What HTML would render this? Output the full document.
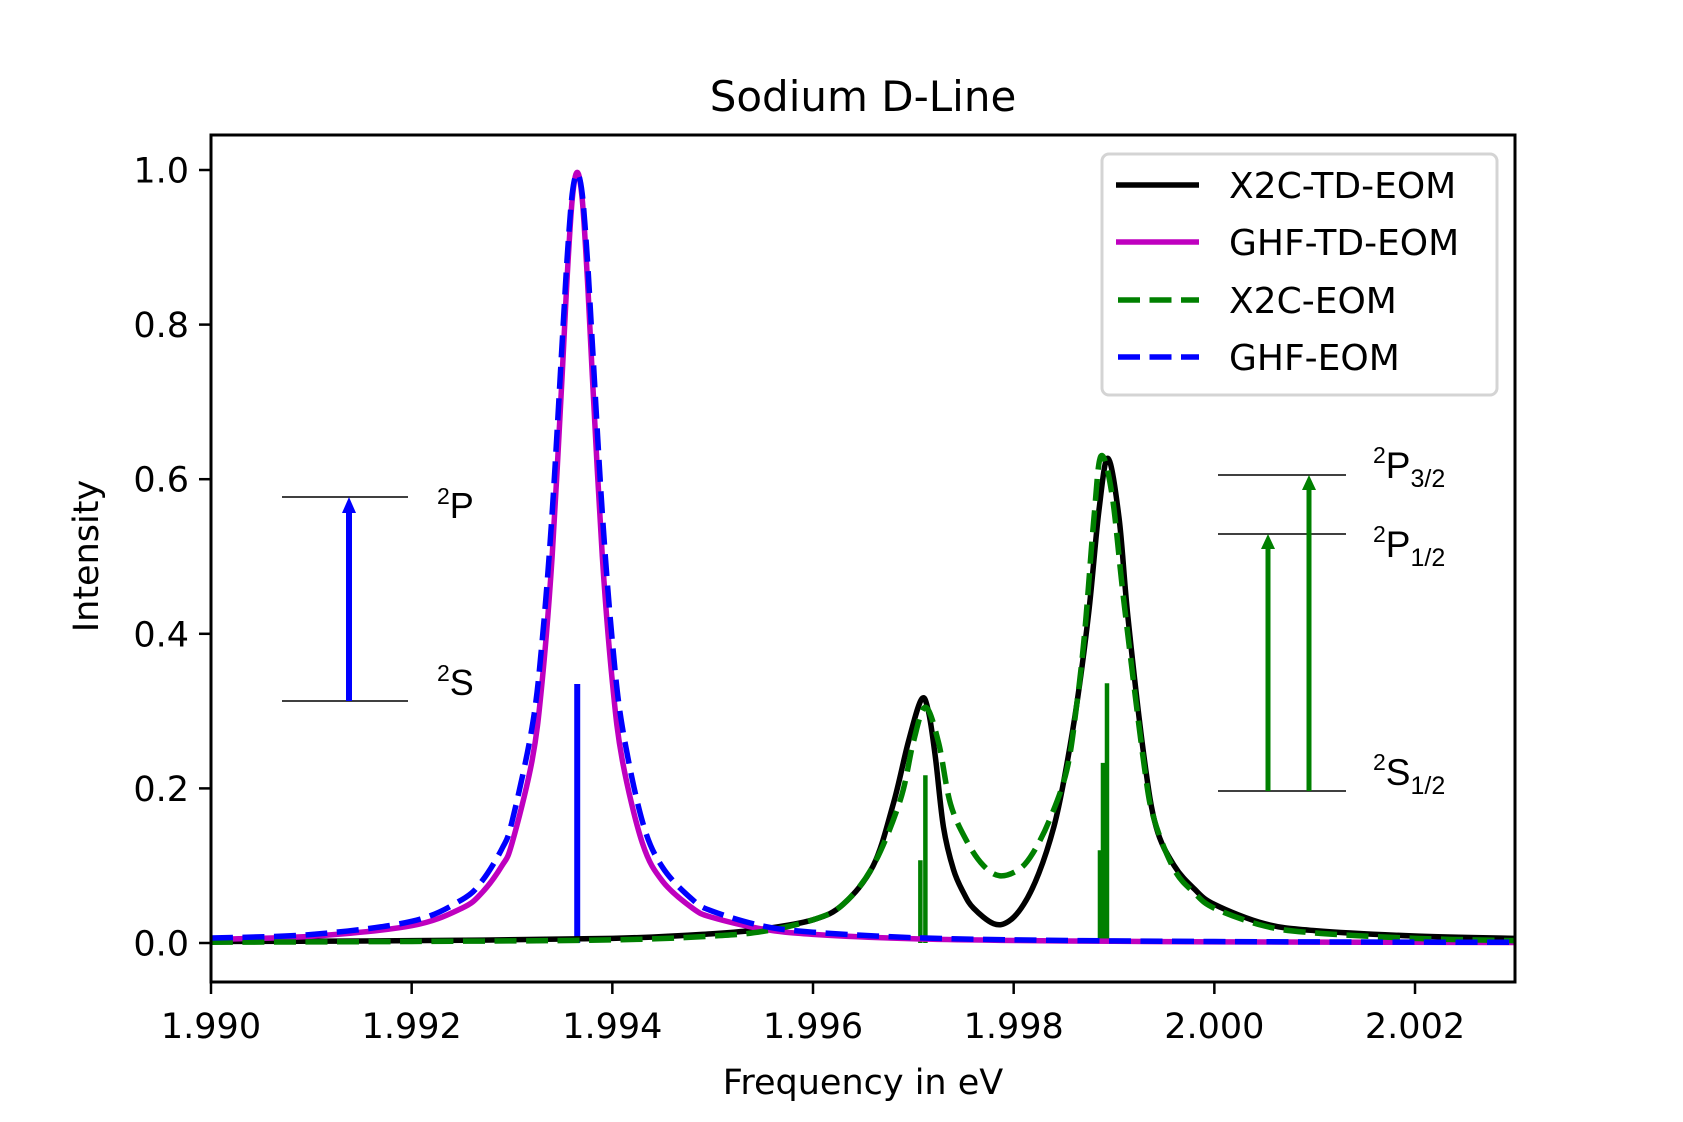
<!DOCTYPE html>
<html><head><meta charset="utf-8"><style>
html,body{margin:0;padding:0;background:#fff}
svg{display:block}
text{font-family:"DejaVu Sans","Liberation Sans",sans-serif;fill:#000}
.arial{font-family:"Liberation Sans",Arial,sans-serif}
</style></head><body>
<svg id="chart" width="1683" height="1122" viewBox="0 0 1683 1122" xmlns="http://www.w3.org/2000/svg">
<text x="863" y="111" font-size="42" text-anchor="middle">Sodium D-Line</text>
<g id="plot"></g>
<g id="axes"></g>
<text x="863" y="1094" font-size="35" text-anchor="middle">Frequency in eV</text>
<text x="0" y="0" font-size="35" text-anchor="middle" transform="translate(98,556) rotate(-90)">Intensity</text>

<g>
<rect x="1102" y="154" width="395" height="241" rx="7" fill="#fff" fill-opacity="0.8" stroke="#d4d4d4" stroke-width="3"/>
<g><line x1="1116" y1="185" x2="1199" y2="185" stroke="#000" stroke-width="5.5"/><text x="1229" y="198" font-size="36">X2C-TD-EOM</text></g>
<g><line x1="1116" y1="242" x2="1199" y2="242" stroke="#bf00bf" stroke-width="5.5"/><text x="1229" y="255" font-size="36">GHF-TD-EOM</text></g>
<g><line x1="1118" y1="300" x2="1199" y2="300" stroke="#008000" stroke-width="5.5" stroke-dasharray="22,9.5"/><text x="1229" y="313" font-size="36">X2C-EOM</text></g>
<g><line x1="1118" y1="357" x2="1199" y2="357" stroke="#0000ff" stroke-width="5.5" stroke-dasharray="22,9.5"/><text x="1229" y="370" font-size="36">GHF-EOM</text></g>
</g>

<g>
<line x1="282" y1="497" x2="408" y2="497" stroke="#000" stroke-width="1.5"/>
<line x1="282" y1="701" x2="408" y2="701" stroke="#000" stroke-width="1.5"/>
<line x1="349" y1="701" x2="349" y2="512" stroke="#0000ff" stroke-width="6"/>
<polygon points="349,497 342,513 356,513" fill="#0000ff"/>
<text class="arial" x="437" y="518" font-size="36"><tspan font-size="23" dy="-14">2</tspan><tspan dy="14">P</tspan></text>
<text class="arial" x="437" y="695" font-size="36"><tspan font-size="23" dy="-14">2</tspan><tspan dy="14">S</tspan></text>
</g>

<g>
<line x1="1218" y1="475" x2="1346" y2="475" stroke="#000" stroke-width="1.5"/>
<line x1="1218" y1="534" x2="1346" y2="534" stroke="#000" stroke-width="1.5"/>
<line x1="1218" y1="791" x2="1346" y2="791" stroke="#000" stroke-width="1.5"/>
<line x1="1268" y1="791" x2="1268" y2="549" stroke="#008000" stroke-width="5"/>
<polygon points="1268,534 1261,549 1275,549" fill="#008000"/>
<line x1="1309" y1="791" x2="1309" y2="490" stroke="#008000" stroke-width="5"/>
<polygon points="1309,475 1302,490 1316,490" fill="#008000"/>
<text class="arial" x="1373" y="478" font-size="37"><tspan font-size="23" dy="-15">2</tspan><tspan dy="15">P</tspan><tspan font-size="25" dy="9">3/2</tspan></text>
<text class="arial" x="1373" y="557" font-size="37"><tspan font-size="23" dy="-15">2</tspan><tspan dy="15">P</tspan><tspan font-size="25" dy="9">1/2</tspan></text>
<text class="arial" x="1373" y="785" font-size="37"><tspan font-size="23" dy="-15">2</tspan><tspan dy="15">S</tspan><tspan font-size="25" dy="9">1/2</tspan></text>
</g>
</svg>
<script>
const xTicks = [1.990, 1.992, 1.994, 1.996, 1.998, 2.000, 2.002];
const xTickLabels = ["1.990", "1.992", "1.994", "1.996", "1.998", "2.000", "2.002"];
const yTicks = [0, 0.2, 0.4, 0.6, 0.8, 1.0];
const yTickLabels = ["0.0", "0.2", "0.4", "0.6", "0.8", "1.0"];

const ghfX = [1.9900,1.9910,1.9920,1.9925,1.9927,1.9929,1.9930,1.9932,1.9933,1.9934,1.9935,1.99355,1.9936,1.99365,1.9937,1.99375,1.9938,1.9939,1.9940,1.9941,1.9943,1.9945,1.9948,1.9950,1.9955,1.9960,1.9970,1.9980,1.9990,2.0000,2.0010,2.0020,2.0030];
const ghfTdEom = [0.0047,0.0088,0.0224,0.045,0.065,0.10,0.129,0.236,0.338,0.5,0.735,0.862,0.962,0.997,0.962,0.862,0.735,0.5,0.338,0.236,0.129,0.08,0.045,0.033,0.018,0.0112,0.0055,0.0033,0.0022,0.0015,0.0012,0.0009,0.0007];
const ghfEom = [0.0065,0.011,0.028,0.056,0.08,0.122,0.157,0.279,0.39,0.556,0.777,0.887,0.969,0.995,0.969,0.887,0.777,0.556,0.39,0.279,0.157,0.098,0.056,0.041,0.022,0.014,0.0069,0.0041,0.0027,0.0019,0.0014,0.0011,0.0009];

const x2cTdX = [1.9900,1.9920,1.9940,1.9950,1.9955,1.9960,1.9963,1.9966,1.9968,1.99695,1.99708,1.99715,1.99722,1.9973,1.9974,1.9975,1.9976,1.9978,1.99795,1.9981,1.99825,1.9984,1.9985,1.99863,1.99875,1.99885,1.99894,1.99905,1.99914,1.9993,1.99942,1.9996,1.9998,2.0000,2.0005,2.0010,2.0020,2.0030];
const x2cTdEom = [0.002,0.003,0.006,0.012,0.018,0.03,0.05,0.10,0.18,0.26,0.315,0.30,0.24,0.15,0.095,0.065,0.045,0.025,0.028,0.05,0.09,0.15,0.21,0.31,0.43,0.56,0.627,0.55,0.42,0.24,0.15,0.10,0.07,0.05,0.025,0.016,0.009,0.006];

const x2cX = [1.9900,1.9920,1.9940,1.9950,1.9955,1.9960,1.9963,1.9966,1.99687,1.9970,1.99712,1.99725,1.99737,1.99754,1.9977,1.99786,1.99805,1.99819,1.99836,1.99853,1.99863,1.99871,1.9988,1.99887,1.99898,1.9991,1.9993,1.9994,1.9996,1.9998,2.0000,2.0005,2.0010,2.0020,2.0030];
const x2cEom = [0.001,0.002,0.004,0.009,0.015,0.03,0.05,0.10,0.185,0.26,0.305,0.26,0.18,0.13,0.10,0.087,0.095,0.116,0.16,0.224,0.31,0.405,0.55,0.63,0.58,0.44,0.23,0.16,0.095,0.065,0.045,0.022,0.013,0.006,0.003];

const ghfStickX = [1.99365];
const ghfStickH = [0.335];
const x2cStickX = [1.99707, 1.99712, 1.99886, 1.99889, 1.99893];
const x2cStickH = [0.107, 0.217, 0.12, 0.233, 0.336];

const L = 211, R = 1515, T = 135, B = 982;
const X0 = 1.990, XPX = 200.67 / 0.002;
const Y0PX = 943, YPX = 773;
function sx(v){ return L + (v - X0) * XPX; }
function sy(v){ return Y0PX - v * YPX; }
const NS = "http://www.w3.org/2000/svg";
function mk(tag, attrs, parent){ const e = document.createElementNS(NS, tag); for (const k in attrs) e.setAttribute(k, attrs[k]); parent.appendChild(e); return e; }

const plot = document.getElementById('plot');
const axes = document.getElementById('axes');
const cp = mk('clipPath', {id:'clip'}, plot);
mk('rect', {x:L, y:T, width:R-L, height:B-T}, cp);
const g = mk('g', {'clip-path':'url(#clip)'}, plot);

function pathFrom(xs, ys){
  const p = xs.map((x,i)=>[sx(x), sy(ys[i])]);
  let d = 'M' + p[0][0].toFixed(2) + ',' + p[0][1].toFixed(2);
  for (let i = 0; i < p.length - 1; i++){
    const p0 = p[Math.max(0,i-1)], p1 = p[i], p2 = p[i+1], p3 = p[Math.min(p.length-1,i+2)];
    const c1 = [p1[0] + (p2[0]-p0[0])/6, p1[1] + (p2[1]-p0[1])/6];
    const c2 = [p2[0] - (p3[0]-p1[0])/6, p2[1] - (p3[1]-p1[1])/6];
    d += 'C' + c1[0].toFixed(2)+','+c1[1].toFixed(2)+' '+c2[0].toFixed(2)+','+c2[1].toFixed(2)+' '+p2[0].toFixed(2)+','+p2[1].toFixed(2);
  }
  return d;
}
function stick(x, h, color, w, name){
  const e = mk('line', {x1:sx(x), x2:sx(x), y1:sy(0), y2:sy(h), stroke:color, 'stroke-width':w}, g);
  
  
}
ghfStickX.forEach((x,i)=>stick(x, ghfStickH[i], '#0000ff', 6, 'ghf-stick'));
x2cStickX.forEach((x,i)=>stick(x, x2cStickH[i], '#008000', 4.5, 'x2c-stick'));

let e;
e = mk('path', {d:pathFrom(x2cTdX, x2cTdEom), fill:'none', stroke:'#000', 'stroke-width':5.5, 'stroke-linejoin':'round'}, g);


e = mk('path', {d:pathFrom(ghfX, ghfTdEom), fill:'none', stroke:'#bf00bf', 'stroke-width':5.5, 'stroke-linejoin':'round'}, g);


e = mk('path', {d:pathFrom(x2cX, x2cEom), fill:'none', stroke:'#008000', 'stroke-width':5.5, 'stroke-dasharray':'22,9.5'}, g);


e = mk('path', {d:pathFrom(ghfX, ghfEom), fill:'none', stroke:'#0000ff', 'stroke-width':5.5, 'stroke-dasharray':'22,9.5'}, g);



xTicks.forEach((v,i)=>{
  const x = sx(v);
  const t = mk('line', {x1:x, x2:x, y1:B, y2:B+12, stroke:'#000', 'stroke-width':2.5}, axes);
  
  
  const l = mk('text', {x:x, y:1038, 'font-size':35, 'text-anchor':'middle'}, axes);
  l.textContent = xTickLabels[i];
  
  
});
yTicks.forEach((v,i)=>{
  const y = sy(v);
  const t = mk('line', {x1:L-12, x2:L, y1:y, y2:y, stroke:'#000', 'stroke-width':2.5}, axes);
  
  
  const l = mk('text', {x:L-22, y:y+12.5, 'font-size':35, 'text-anchor':'end'}, axes);
  l.textContent = yTickLabels[i];
  
  
});
const frame = mk('rect', {x:L, y:T, width:R-L, height:B-T, fill:'none', stroke:'#000', 'stroke-width':3}, axes);


</script>
</body></html>
